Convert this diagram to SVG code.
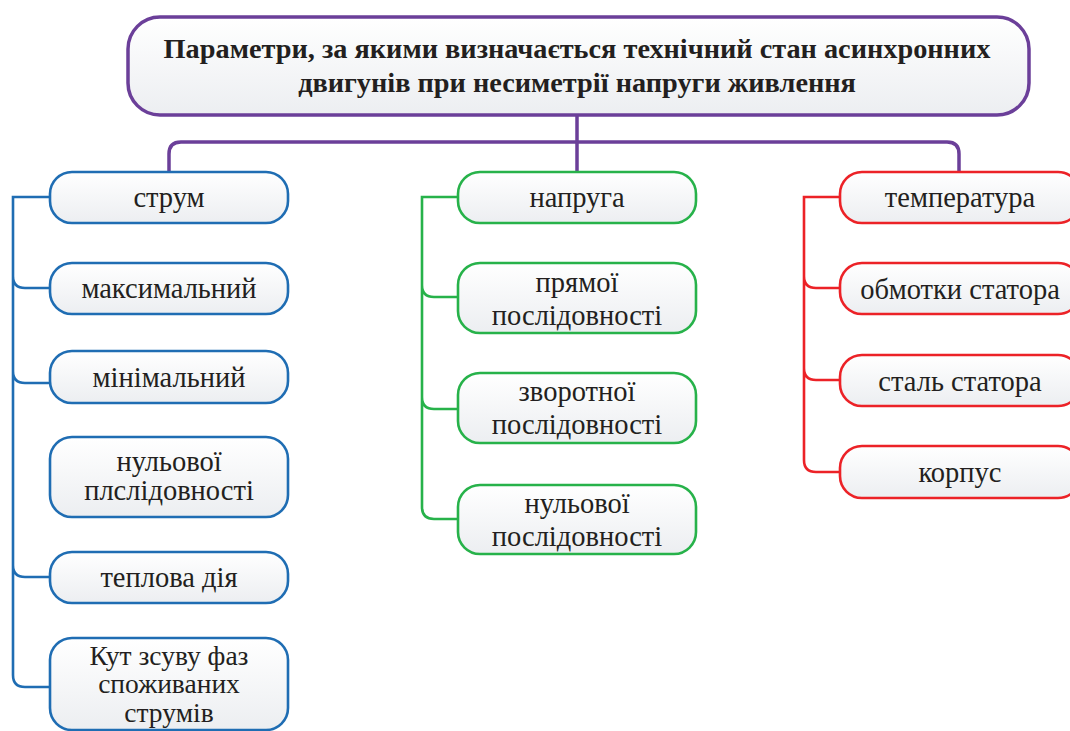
<svg xmlns="http://www.w3.org/2000/svg" width="1070" height="731" viewBox="0 0 1070 731">
<defs>
<linearGradient id="g" x1="0" y1="0" x2="0" y2="1">
<stop offset="0" stop-color="#ffffff"/>
<stop offset="1" stop-color="#eceef1"/>
</linearGradient>
<style>
.n{fill:url(#g);stroke-width:2.6}
.b{stroke:#1f6db3}
.gr{stroke:#27b24a}
.r{stroke:#ec2227}
.p{stroke:#6b3f99}
.t{font-family:"Liberation Serif","Times New Roman",serif;font-size:28.5px;fill:#231f20;text-anchor:middle}
.s{font-size:27.5px}
.h{font-family:"Liberation Serif","Times New Roman",serif;font-size:28.3px;font-weight:bold;fill:#231f20;text-anchor:middle}
.c{fill:none;stroke-width:2.6}
</style>
</defs>
<rect width="1070" height="731" fill="#ffffff"/>
<g id="connectors">
<path class="c p" d="M169,172 V154 Q169,142 181,142 H947 Q959,142 959,154 V172 M577,115 V172" style="stroke-width:3.5"/>
<path class="c b" d="M50,197 H13 V675 Q13,687 25,687 H50 M13,276 Q13,288 25,288 H50 M13,371 Q13,383 25,383 H50 M13,565 Q13,577 25,577 H50"/>
<path class="c gr" d="M458,197 H422 V507 Q422,519 434,519 H458 M422,285 Q422,297 434,297 H458 M422,397 Q422,409 434,409 H458"/>
<path class="c r" d="M840,197 H804 V460 Q804,472 816,472 H840 M804,276 Q804,288 816,288 H840 M804,368 Q804,380 816,380 H840"/>
</g>
<g id="root">
<rect class="n p" x="128" y="17" width="901" height="98" rx="32" style="stroke-width:3.5"/>
<text class="h" x="577" y="58">Параметри, за якими визначається технічний стан асинхронних</text>
<text class="h" x="577" y="92">двигунів при несиметрії напруги живлення</text>
</g>
<g id="strum">
<rect class="n b" x="50" y="172" width="238" height="51" rx="22"/>
<text class="t" x="169" y="207">струм</text>
</g>
<g id="maksymalnyi">
<rect class="n b" x="50" y="263" width="238" height="51" rx="22"/>
<text class="t" x="169" y="298">максимальний</text>
</g>
<g id="minimalnyi">
<rect class="n b" x="50" y="351" width="238" height="52" rx="22"/>
<text class="t" x="169" y="387">мінімальний</text>
</g>
<g id="nulovoi-strum">
<rect class="n b" x="50" y="437" width="238" height="80" rx="22"/>
<text class="t" x="169" y="471">нульової</text>
<text class="t" x="169" y="500">плслідовності</text>
</g>
<g id="teplova">
<rect class="n b" x="50" y="552" width="238" height="51" rx="22"/>
<text class="t" x="169" y="587">теплова дія</text>
</g>
<g id="kut">
<rect class="n b" x="50" y="638" width="238" height="92" rx="22"/>
<text class="t s" x="169" y="665">Кут зсуву фаз</text>
<text class="t s" x="169" y="693">споживаних</text>
<text class="t s" x="169" y="722">струмів</text>
</g>
<g id="napruga">
<rect class="n gr" x="458" y="172" width="238" height="51" rx="22"/>
<text class="t" x="577" y="207">напруга</text>
</g>
<g id="priamoi">
<rect class="n gr" x="458" y="263" width="238" height="70" rx="22"/>
<text class="t" x="577" y="292">прямої</text>
<text class="t" x="577" y="325">послідовності</text>
</g>
<g id="zvorotnoi">
<rect class="n gr" x="458" y="373" width="238" height="70" rx="22"/>
<text class="t" x="577" y="401">зворотної</text>
<text class="t" x="577" y="434">послідовності</text>
</g>
<g id="nulovoi-napruga">
<rect class="n gr" x="458" y="485" width="238" height="69" rx="22"/>
<text class="t" x="577" y="513">нульової</text>
<text class="t" x="577" y="546">послідовності</text>
</g>
<g id="temperatura">
<rect class="n r" x="840" y="172" width="240" height="51" rx="22"/>
<text class="t" x="960" y="207">температура</text>
</g>
<g id="obmotky">
<rect class="n r" x="840" y="263" width="240" height="51" rx="22"/>
<text class="t" x="960" y="299">обмотки статора</text>
</g>
<g id="stal">
<rect class="n r" x="840" y="355" width="240" height="51" rx="22"/>
<text class="t" x="960" y="391">сталь статора</text>
</g>
<g id="korpus">
<rect class="n r" x="840" y="446" width="240" height="52" rx="22"/>
<text class="t" x="960" y="482">корпус</text>
</g>
</svg>
